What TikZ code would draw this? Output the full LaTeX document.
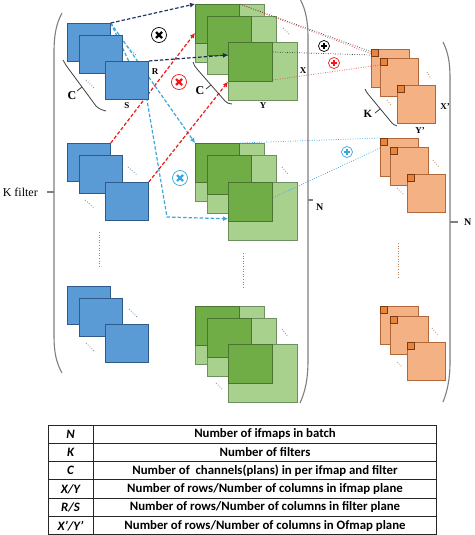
\documentclass[tikz,border=0pt]{standalone}
\usepackage{fontspec}
\setmainfont{Liberation Serif}
\newfontfamily\tabfont{Carlito}
\usetikzlibrary{arrows.meta,calc}
\pgfdeclarelayer{back}
\pgfdeclarelayer{bg}
\pgfsetlayers{back,bg,main}
\definecolor{fblue}{HTML}{5B9BD5}
\definecolor{bblue}{HTML}{2F5B8C}
\definecolor{gdf}{HTML}{70AD47}
\definecolor{gdb}{HTML}{4A7530}
\definecolor{glf}{HTML}{A9D18E}
\definecolor{glb}{HTML}{6E8F5E}
\definecolor{ofl}{HTML}{F4B183}
\definecolor{obd}{HTML}{B0683A}
\definecolor{osf}{HTML}{E8843C}
\definecolor{osd}{HTML}{7A3A12}
\definecolor{navy}{HTML}{1F3864}
\definecolor{cyanl}{HTML}{3AA6DD}
\definecolor{redl}{HTML}{F01818}
\definecolor{brkc}{HTML}{7F7F7F}
\tikzset{
  bluebox/.style={draw=bblue, fill=fblue, line width=0.8pt, minimum width=43pt, minimum height=38pt, inner sep=0pt, anchor=north west},
  glight/.style={draw=glb, fill=glf, line width=0.8pt, minimum width=69pt, minimum height=58pt, inner sep=0pt, anchor=north west},
  gdark/.style={draw=gdb, fill=gdf, line width=0.8pt, minimum width=44pt, minimum height=39pt, inner sep=0pt, anchor=north west},
  obox/.style={draw=obd, fill=ofl, line width=0.8pt, minimum width=38pt, minimum height=38pt, inner sep=0pt, anchor=north west},
  osmall/.style={draw=osd, fill=osf, line width=0.6pt, minimum width=7pt, minimum height=7pt, inner sep=0pt, anchor=north west},
  dasharrow/.style={line width=1.2pt, dash pattern=on 3.5pt off 2pt, -{Latex[length=5pt,width=5pt]}},
  dotconn/.style={line width=0.7pt, dash pattern=on 0.8pt off 1.6pt},
  ellip/.style={line width=0.8pt, dash pattern=on 0.8pt off 1.8pt},
  brk/.style={draw=brkc, line width=1.1pt},
  sbrk/.style={draw=black!75, line width=0.8pt},
  lbl/.style={font=\bfseries\fontsize{9}{9}\selectfont, inner sep=0pt},
  blbl/.style={font=\bfseries\fontsize{12}{12}\selectfont, inner sep=0pt},
  timesc/.style={circle, draw=#1, line width=0.7pt, minimum size=15pt, inner sep=0pt,
    path picture={\draw[#1, line width=2.2pt] (path picture bounding box.center) ++(-3pt,-3pt) -- ++(6pt,6pt)
      (path picture bounding box.center) ++(-3pt,3pt) -- ++(6pt,-6pt);}},
  plusc/.style={circle, draw=#1, line width=0.7pt, minimum size=11pt, inner sep=0pt,
    path picture={\draw[#1, line width=1.5pt] (path picture bounding box.center) ++(-2.8pt,0pt) -- ++(5.6pt,0pt)
      (path picture bounding box.center) ++(0pt,-2.8pt) -- ++(0pt,5.6pt);}},
  tabl/.style={font=\tabfont\bfseries\itshape\fontsize{12.8}{12.8}\selectfont, inner sep=0pt},
  tabr/.style={font=\tabfont\bfseries\fontsize{12.8}{12.8}\selectfont, inner sep=0pt},
}
\newcommand\gblk[2]{\node[glight] (#1) at (#2) {}; \node[gdark] (#1d) at (#2) {};}
\newcommand\oblk[2]{\node[obox] (#1) at (#2) {}; \node[osmall] (#1s) at (#2) {};}
\begin{document}
\begin{tikzpicture}[x=1pt,y=-1pt]
\useasboundingbox (0,0) rectangle (474,535);
\begin{pgfonlayer}{back}
\fill[white] (0,0) rectangle (474,535);
\end{pgfonlayer}

% ---------- blue filters ----------
\node[bluebox] (b1a) at (67,23) {};
\node[bluebox] (b1b) at (79,35) {};
\node[bluebox] (b1c) at (105,61) {};
\node[bluebox] (b2a) at (67,143) {};
\node[bluebox] (b2b) at (79,155) {};
\node[bluebox] (b2c) at (105,182) {};
\node[bluebox] (b3a) at (67,286) {};
\node[bluebox] (b3b) at (79,298) {};
\node[bluebox] (b3c) at (105,324) {};

% ---------- green ifmaps ----------
\gblk{g1a}{195,4}
\gblk{g1b}{207,16}
\gblk{g1c}{228,42}
\gblk{g2a}{195,143}
\gblk{g2b}{207,155}
\gblk{g2c}{228,182}
\gblk{g3a}{195,306}
\gblk{g3b}{207,318}
\gblk{g3c}{228,344}

% ---------- orange ofmaps ----------
\oblk{o1a}{371,49}
\oblk{o1b}{380,58}
\oblk{o1c}{397,85}
\oblk{o2a}{380,138}
\oblk{o2b}{390,147}
\oblk{o2c}{407,174}
\oblk{o3a}{380,306}
\oblk{o3b}{390,316}
\oblk{o3c}{407,342}

% ---------- connectors behind the filters ----------
\begin{pgfonlayer}{bg}
\draw[dasharrow, cyanl] (b1a.north east) -- (g2a.north west);
\coordinate (cb1) at (147,100);
\coordinate (cb2) at (167,217);
\draw[dasharrow, cyanl] (b1a.north east) -- (cb1) -- (cb2) -- ($(g2cd.south west)+(0,-3)$);
\draw[dasharrow, redl] (b2a.north east) -- ($(g1ad.north west)+(0,29)$);
\end{pgfonlayer}

% ---------- connectors on top ----------
\draw[dasharrow, navy] (b1a.north east) -- (g1a.north west);
\draw[dasharrow, navy!80!black] (b1c.north east) -- ($(g1cd.north west)+(0,13)$);
\draw[dasharrow, redl] (b2c.north east) -- (g1cd.south west);

\draw[dotconn, black!75] (g1ad.north east) -- ($(o1a.north west)+(1,3)$);
\draw[dotconn, redl!80] ($(g1ad.north east)+(2,1)$) -- ($(o1a.north west)+(1,5)$);
\draw[dotconn, black!75] ($(g1cd.north east)+(0,10)$) -- ($(o1a.north west)+(0,6)$);
\draw[dotconn, redl!80] ($(g1cd.north east)+(0,38)$) -- ($(o1b.north west)+(0,7)$);
\draw[dotconn, cyanl] (g2ad.north east) -- (o2a.north west);
\draw[dotconn, cyanl] ($(g2cd.north east)+(0,16)$) -- ($(o2a.north west)+(0,10)$);

% ---------- operator circles ----------
\node[timesc=black] (x1) at (159,35) {};
\node[timesc=redl] (x2) at (179,82) {};
\node[timesc=cyanl] (x3) at (180,178) {};
\node[plusc=black] (p1) at (324,46) {};
\node[plusc=redl] (p2) at (334,63) {};
\node[plusc=cyanl] (p3) at (347,152) {};

% ---------- ellipsis dots ----------
\draw[ellip, bblue!70] (128,47) -- (137,56);
\draw[ellip, bblue!70] (86,80) -- (94,88);
\draw[ellip, bblue!70] (128,167) -- (137,175);
\draw[ellip, bblue!70] (85,200) -- (94,208);
\draw[ellip, bblue!70] (129,309) -- (137,317);
\draw[ellip, bblue!70] (86,343) -- (94,351);
\draw[ellip, bblue!70] (99,232) -- (99,267);
\draw[ellip, gdb!80] (283,28) -- (289,34);
\draw[ellip, gdb!80] (282,167) -- (288,174);
\draw[ellip, gdb!80] (282,329) -- (288,337);
\draw[ellip, gdb!80] (216,383) -- (223,390);
\draw[ellip, gdb!80] (243,253) -- (243,287);
\draw[ellip, obd!80] (427,72) -- (431,79);
\draw[ellip, obd!80] (387,100) -- (392,106);
\draw[ellip, obd!80] (433,160) -- (439,167);
\draw[ellip, obd!80] (397,188) -- (403,194);
\draw[ellip, obd!80] (432,328) -- (438,335);
\draw[ellip, obd!80] (397,362) -- (402,367);
\draw[ellip, obd!80] (398,243) -- (398,277);

% ---------- small braces and labels ----------
\draw[sbrk] (63,60) .. controls (65,63) and (66,66) .. (68,68) -- (96,106) .. controls (99,109) and (102,110) .. (106,111);
\draw[sbrk] (82,87) -- (77,91);
\node[blbl] (lc1) at (72,96) {C};
\draw[sbrk] (193,62) .. controls (194,65) and (195,67) .. (197,69) -- (225,101) .. controls (227,103) and (229,104) .. (232,104);
\draw[sbrk] (211,85) -- (206,89);
\node[blbl] (lc2) at (200,91) {C};
\draw[sbrk] (365,89) .. controls (366,91) and (367,93) .. (368,94) -- (392,123) .. controls (393,124) and (394,125) .. (397,126);
\draw[sbrk] (380,109) -- (375,113);
\node[font=\bfseries\fontsize{11}{11}\selectfont, inner sep=0pt] (lk) at (368,114) {K};

\node[lbl] (lr) at (155,72) {R};
\node[lbl] (ls) at (127,106) {S};
\node[lbl] (lx) at (303,71) {X};
\node[lbl] (ly) at (263,106) {Y};
\node[lbl] (lxp) at (445,107) {X'};
\node[lbl] (lyp) at (420,131) {Y'};

% ---------- big brackets ----------
\draw[brk] (62,13) .. controls (56,24) and (54,36) .. (54,52) -- (54,335) .. controls (54,352) and (56,362) .. (62,373);
\draw[brk] (47,192) -- (54,192);
\node[font=\fontsize{12}{12}\selectfont, anchor=east, inner sep=0pt] (kf) at (38,192) {K filter};

\draw[brk] (300,-1) .. controls (306,10) and (308,22) .. (308,38) -- (308,360) .. controls (308,380) and (305,392) .. (300,403);
\draw[brk] (308,200) -- (313,200);
\node[font=\bfseries\fontsize{10}{10}\selectfont, anchor=west, inner sep=0pt] (n1) at (316,207) {N};

\draw[brk] (443,42) .. controls (448,52) and (450,62) .. (450,78) -- (450,362) .. controls (450,380) and (447,392) .. (443,402);
\draw[brk] (450,222) -- (458,222);
\node[font=\bfseries\fontsize{10}{10}\selectfont, anchor=west, inner sep=0pt] (n2) at (464,222) {N};

% ---------- table ----------
\draw[line width=0.9pt, black!85] (48,425) rectangle (436,534.5);
\foreach \r in {1,...,5} {\draw[line width=0.9pt, black!85] (48,425+\r*18.3) -- (436,425+\r*18.3);}
\draw[line width=0.9pt, black!85] (93,425) -- (93,534.5);
\node[tabl] (t1) at (70.5,434.2) {N};
\node[tabr] (u1) at (265,434.2) {Number of ifmaps in batch};
\node[tabl] (t2) at (70.5,452.5) {K};
\node[tabr] (u2) at (265,452.5) {Number of filters};
\node[tabl] (t3) at (70.5,470.8) {C};
\node[tabr] (u3) at (265,470.8) {Number of\ \ channels(plans) in per ifmap and filter};
\node[tabl] (t4) at (70.5,489.1) {X/Y};
\node[tabr] (u4) at (265,489.1) {Number of rows/Number of columns in ifmap plane};
\node[tabl] (t5) at (70.5,507.4) {R/S};
\node[tabr] (u5) at (265,507.4) {Number of rows/Number of columns in filter plane};
\node[tabl] (t6) at (70.5,525.7) {X’/Y’};
\node[tabr] (u6) at (265,525.7) {Number of rows/Number of columns in Ofmap plane};
\end{tikzpicture}
\end{document}
